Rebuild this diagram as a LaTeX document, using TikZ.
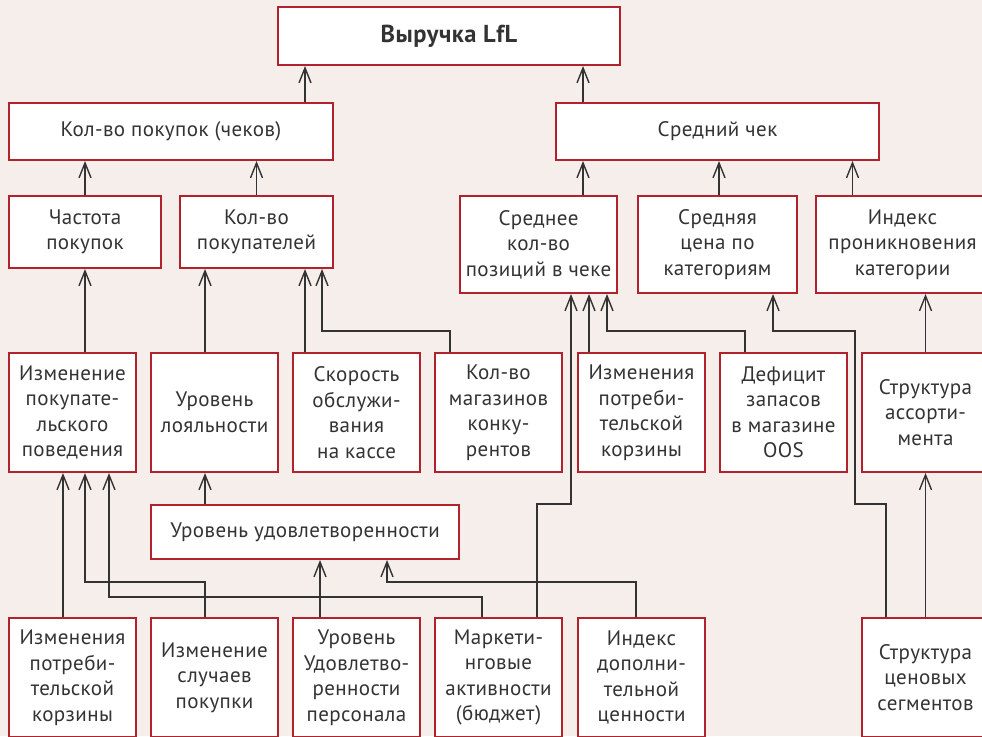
\documentclass[tikz,border=0pt]{standalone}
\usepackage{fontspec}
\setmainfont{PT Sans}[LetterSpace=2]
\usetikzlibrary{arrows.meta}
\definecolor{Paper}{RGB}{246,238,235}
\definecolor{Frame}{RGB}{178,34,44}
\definecolor{Ink}{RGB}{51,51,51}
\tikzset{
  >={Straight Barb[length=15pt,width=12pt,line width=1.4pt]},
  box/.style={draw=Frame,line width=2pt,fill=white,align=center,inner sep=0pt,
    text=Ink,font=\fontsize{21}{25.5}\selectfont},
  wide/.style={box,minimum height=57pt},
  tall/.style={box,minimum width=127pt,minimum height=119pt},
  link/.style={->,draw=Ink,line width=1.2pt},
}
\begin{document}
\begin{tikzpicture}[x=1pt,y=-1pt]
			% Поле
			\useasboundingbox (0,0) rectangle (982,736);
			\fill[Paper] (0,0) rectangle (982,736);
			\clip (0,0) rectangle (982,736);
			% Верхние уровни
			\node[box,minimum width=342pt,minimum height=58pt,font=\fontsize{24.5}{28}\selectfont\bfseries] (vyr) at (449,36) {Выручка LfL};
			\node[wide,minimum width=324pt] (kolpok) at (171,131.5) {Кол-во покупок (чеков)};
			\node[wide,minimum width=323pt] (srchek) at (717.5,131.5) {Средний чек};
			\node[box,minimum width=152pt,minimum height=72pt] (chastota) at (85,232) {Частота\\покупок};
			\node[box,minimum width=153pt,minimum height=72pt] (kolpokup) at (256.5,232) {Кол-во\\покупателей};
			\node[box,minimum width=157pt,minimum height=97pt] (sredkol) at (538.5,244.5) {Среднее\\кол-во\\позиций в чеке};
			\node[box,minimum width=159pt,minimum height=97pt] (sredcena) at (717.5,244.5) {Средняя\\цена по\\категориям};
			\node[box,minimum width=173pt,minimum height=97pt] (indpron) at (902.5,244.5) {Индекс\\проникновения\\категории};
			% Факторы
			\node[tall] (izmpov) at (72.5,412.5) {Изменение\\покупате-\\льского\\поведения};
			\node[tall] (loyal) at (214.5,412.5) {Уровень\\лояльности};
			\node[tall] (skor) at (356.5,412.5) {Скорость\\обслужи-\\вания\\на кассе};
			\node[tall] (kolmag) at (498.5,412.5) {Кол-во\\магазинов\\конку-\\рентов};
			\node[tall] (izmkorz) at (641.5,412.5) {Изменения\\потреби-\\тельской\\корзины};
			\node[tall] (defic) at (783.5,412.5) {Дефицит\\запасов\\в магазине\\OOS};
			\node[tall] (strass) at (925.5,412.5) {Структура\\ассорти-\\мента};
			\node[box,minimum width=308pt,minimum height=54pt] (udovl) at (305,532) {Уровень удовлетворенности};
			% Нижний ряд
			\node[tall] (izmkb) at (72.5,677.5) {Изменения\\потреби-\\тельской\\корзины};
			\node[tall] (sluch) at (214.5,677.5) {Изменение\\случаев\\покупки};
			\node[tall] (persn) at (356.5,677.5) {Уровень\\Удовлетво-\\ренности\\персонала};
			\node[tall] (market) at (498.5,677.5) {Маркети-\\нговые\\активности\\(бюджет)};
			\node[tall] (dopcen) at (641.5,677.5) {Индекс\\дополни-\\тельной\\ценности};
			\node[tall] (strceny) at (925.5,677.5) {Структура\\ценовых\\сегментов};
			% Связи вверх
			\draw[link] ([xshift=134pt]kolpok.north) -- ([xshift=134pt]kolpok.north |- vyr.south);
			\draw[link] ([xshift=-134.5pt]srchek.north) -- ([xshift=-134.5pt]srchek.north |- vyr.south);
			\draw[link] (chastota.north) -- (chastota.north |- kolpok.south);
			\draw[link] (kolpokup.north) -- (kolpokup.north |- kolpok.south);
			\draw[link] ([xshift=44.5pt]sredkol.north) -- ([xshift=44.5pt]sredkol.north |- srchek.south);
			\draw[link] ([xshift=1.5pt]sredcena.north) -- ([xshift=1.5pt]sredcena.north |- srchek.south);
			\draw[link] ([xshift=-50pt]indpron.north) -- ([xshift=-50pt]indpron.north |- srchek.south);
			\draw[link] (chastota.south |- izmpov.north) -- (chastota.south);
			\draw[link] ([xshift=-9.5pt]loyal.north) -- ([xshift=-9.5pt]loyal.north |- kolpokup.south);
			\draw[link] ([xshift=-51.5pt]skor.north) -- ([xshift=-51.5pt]skor.north |- kolpokup.south);
			\draw[link] ([xshift=-48.5pt]kolmag.north) -- ++(0,-21) -| ([xshift=65.5pt]kolpokup.south);
			\draw[link] ([xshift=-52.5pt]izmkorz.north) -- ([xshift=-52.5pt]izmkorz.north |- sredkol.south);
			\draw[link] ([xshift=-38.5pt]defic.north) -- ++(0,-21) -| ([xshift=68.5pt]sredkol.south);
			\draw[link] (strass.north) -- (strass.north |- indpron.south);
			\draw[link] ([xshift=-100pt]udovl.north) -- ([xshift=-100pt]udovl.north |- loyal.south);
			% Нижние связи
			\draw[link] ([xshift=-9.5pt]izmkb.north) -- ([xshift=-9.5pt]izmkb.north |- izmpov.south);
			\draw[link] ([xshift=-9.5pt]sluch.north) -- ++(0,-35) -| ([xshift=12.5pt]izmpov.south);
			\draw[link] ([xshift=-16.5pt]market.north) -- ++(0,-20) -| ([xshift=36.5pt]izmpov.south);
			\draw[link] ([xshift=-36.5pt]persn.north) -- ([xshift=-36.5pt]persn.north |- udovl.south);
			\draw[link] ([xshift=-5.5pt]dopcen.north) -- ++(0,-35) -| ([xshift=82pt]udovl.south);
			\draw[link] ([xshift=38.5pt]market.north) -- ++(0,-113) -| ([xshift=32.5pt]sredkol.south);
			\draw[link] ([xshift=-39.5pt]strceny.north) -- ++(0,-113) -- ++(-31,0) -- ++(0,-173) -| ([xshift=55.5pt]sredcena.south);
			\draw[link] (strceny.north) -- (strass.south);
		\end{tikzpicture}
\end{document}
